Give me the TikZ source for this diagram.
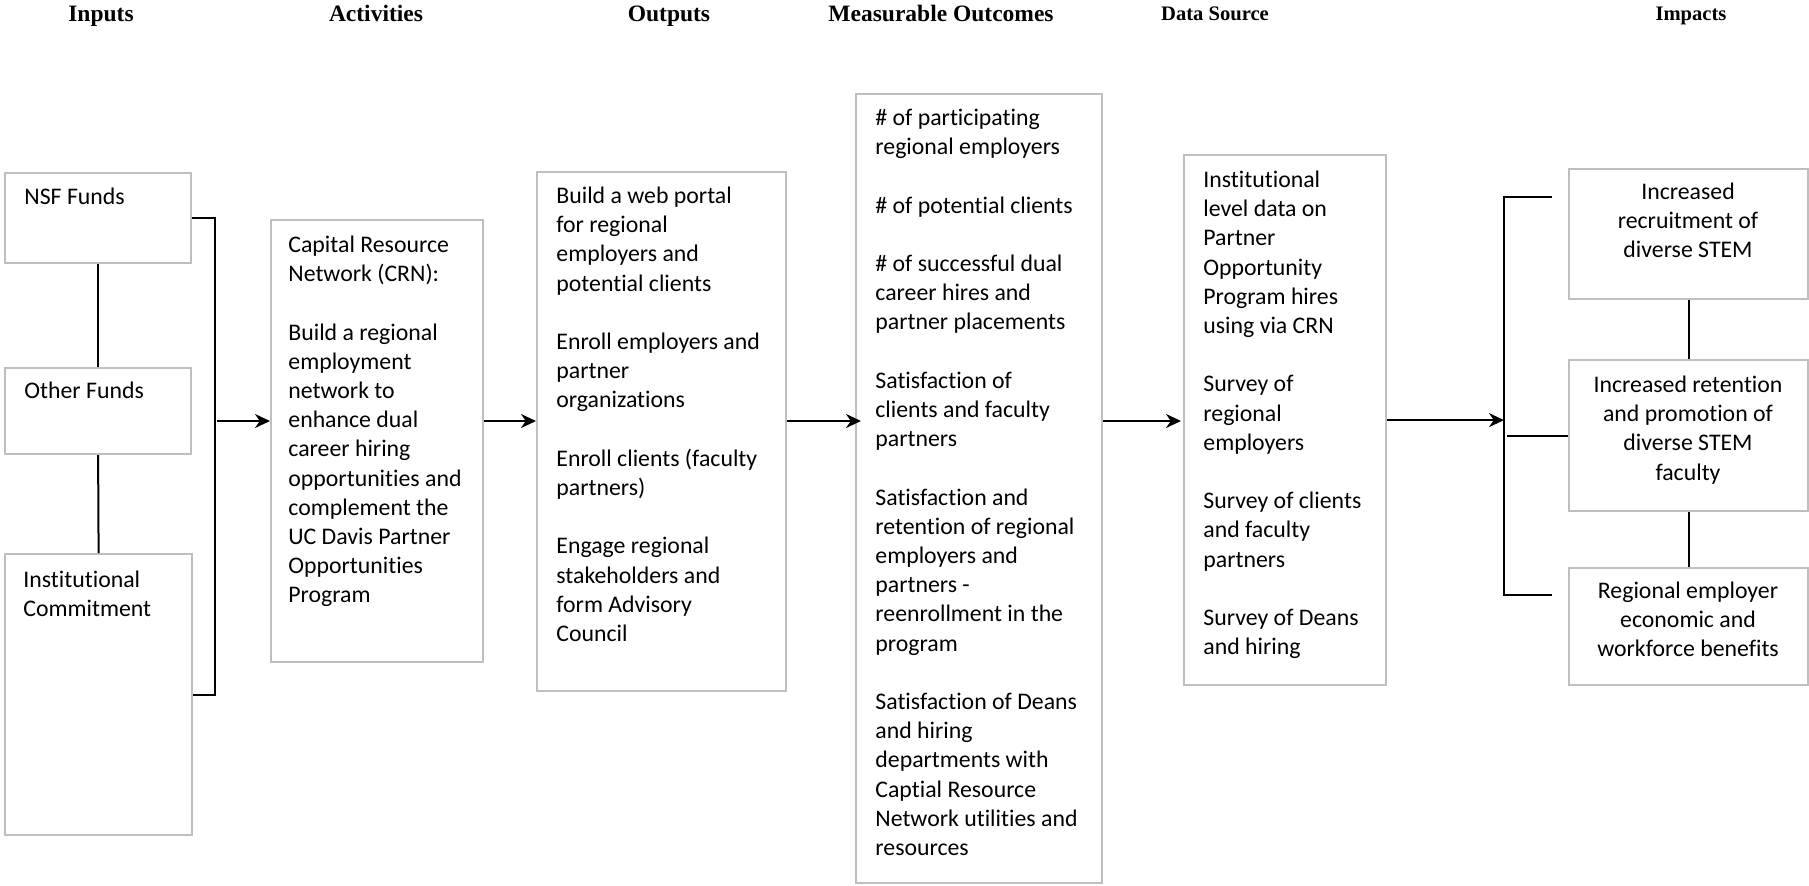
\documentclass[tikz,border=0pt]{standalone}
\usepackage{fontspec}
\setmainfont{Carlito}[Ligatures=NoCommon]
\newfontfamily\headfont{Liberation Serif}
\usetikzlibrary{arrows.meta,calc}
\definecolor{boxgray}{HTML}{BFBFBF}
\def\pxu{0.5pt}

\begin{document}
\begin{tikzpicture}[x=0.5pt,y=-0.5pt,
  box/.style={draw=boxgray,line width=1.1pt,rectangle,inner sep=0pt,anchor=north west},
  sz/.style 2 args={minimum width=#1*\pxu,minimum height=#2*\pxu},
  body/.style={inner sep=0pt,align=left,anchor=north west,yshift=10.22pt,
    font=\fontsize{11.9}{14.6}\selectfont},
  bodyc/.style={body,align=center,anchor=north},
  head/.style={inner sep=0pt,anchor=base,font=\headfont\bfseries\fontsize{11.75}{14}\selectfont},
  headsm/.style={head,font=\headfont\bfseries\fontsize{10.3}{12}\selectfont},
  link/.style={draw=black,line width=1pt},
  flow/.style={link,-{Stealth[length=7.5pt,width=7pt,inset=2.4pt]}}
]
\useasboundingbox (0,0) rectangle (1809,885);

% column headings
\node[head]   (hin)  at (101,21)  {Inputs};
\node[head]   (hact) at (376,21)  {Activities};
\node[head]   (hout) at (669,21)  {Outputs};
\node[head]   (hmo)  at (941,21)  {Measurable Outcomes};
\node[headsm] (hds)  at (1215,20) {Data Source};
\node[headsm] (himp) at (1691,20) {Impacts};

% inputs
\node[box,sz={186}{90}]  (nsf)  at (4,172) {};
\node[box,sz={186}{86}]  (oth)  at (4,367) {};
\node[box,sz={187}{281}] (inst) at (4,553) {};
\node[body] (tnsf)  at (24,204) {\strut NSF Funds};
\node[body] (toth)  at (24,398) {\strut Other Funds};
\node[body] (tinst) at (23,587) {\strut Institutional\\Commitment};

% activities, outputs, outcomes, data sources
\node[box,sz={212}{442}] (act) at (270,219) {};
\node[box,sz={249}{519}] (out) at (536,171) {};
\node[box,sz={246}{789}] (mo)  at (855,93)  {};
\node[box,sz={202}{530}] (ds)  at (1183,154) {};

\node[body] (tact) at (288,252) {\strut Capital Resource\\Network (CRN):\\[14.6pt]
  Build a regional\\employment\\network to\\enhance dual\\career hiring\\
  opportunities and\\complement the\\UC Davis Partner\\Opportunities\\Program};

\node[body] (tout) at (556,203) {\strut Build a web portal\\for regional\\employers and\\potential clients\\[14.6pt]
  Enroll employers and\\partner\\organizations\\[14.6pt]
  Enroll clients (faculty\\partners)\\[14.6pt]
  Engage regional\\stakeholders and\\form Advisory\\Council};

\node[body] (tmo) at (875,125) {\strut \# of participating\\regional employers\\[14.6pt]
  \# of potential clients\\[14.6pt]
  \# of successful dual\\career hires and\\partner placements\\[14.6pt]
  Satisfaction of\\clients and faculty\\partners\\[14.6pt]
  Satisfaction and\\retention of regional\\employers and\\partners -\\reenrollment in the\\program\\[14.6pt]
  Satisfaction of Deans\\and hiring\\departments with\\Captial Resource\\Network utilities and\\resources};

\node[body] (tds) at (1203,187) {\strut Institutional\\level data on\\Partner\\Opportunity\\Program hires\\using via CRN\\[14.6pt]
  Survey of\\regional\\employers\\[14.6pt]
  Survey of clients\\and faculty\\partners\\[14.6pt]
  Survey of Deans\\and hiring};

% impacts
\node[box,sz={239}{130}] (imp1) at (1568,168) {};
\node[box,sz={239}{151}] (imp2) at (1568,359) {};
\node[box,sz={239}{117}] (imp3) at (1568,567) {};
\node[bodyc] (timp1) at (1688,199) {\strut Increased\\recruitment of\\diverse STEM};
\node[bodyc] (timp2) at (1688,392) {\strut Increased retention\\and promotion of\\diverse STEM\\faculty};
\node[bodyc] (timp3) at (1688,598) {\strut Regional employer\\economic and\\workforce benefits};

% helper coordinates for the connector lines
\coordinate (flow) at (0,421);
\coordinate (brk)  at (215,0);
\coordinate (ibrk) at (1504,0);
\coordinate (itop) at (1552,197);
\coordinate (ibot) at (1552,595);

% links between the inputs
\draw[link] (nsf.south) -- (oth.north);
\draw[link] (oth.south) -- (inst.north);
\draw[link] (nsf.east) -- (nsf.east -| brk) -- (inst.east -| brk) -- (inst.east);

% main flow
\draw[flow] ($(brk |- flow)+(2,0)$) -- (act.west |- flow);
\draw[flow] (act.east |- flow) -- (out.west |- flow);
\draw[flow] (out.east |- flow) -- ($(mo.west |- flow)+(6,0)$);
\draw[flow] (mo.east |- flow) -- ($(ds.west |- flow)+(-2,0)$);
\draw[flow] (ds.east) -- (ibrk |- ds.east);

% impacts bracket
\draw[link] (itop) -- (ibrk |- itop) -- (ibrk |- ibot) -- (ibot);
\draw[link] ($(ibrk |- imp2.west)+(3,0)$) -- (imp2.west);
\draw[link] (imp1.south) -- (imp2.north);
\draw[link] (imp2.south) -- (imp3.north);
\end{tikzpicture}
\end{document}
